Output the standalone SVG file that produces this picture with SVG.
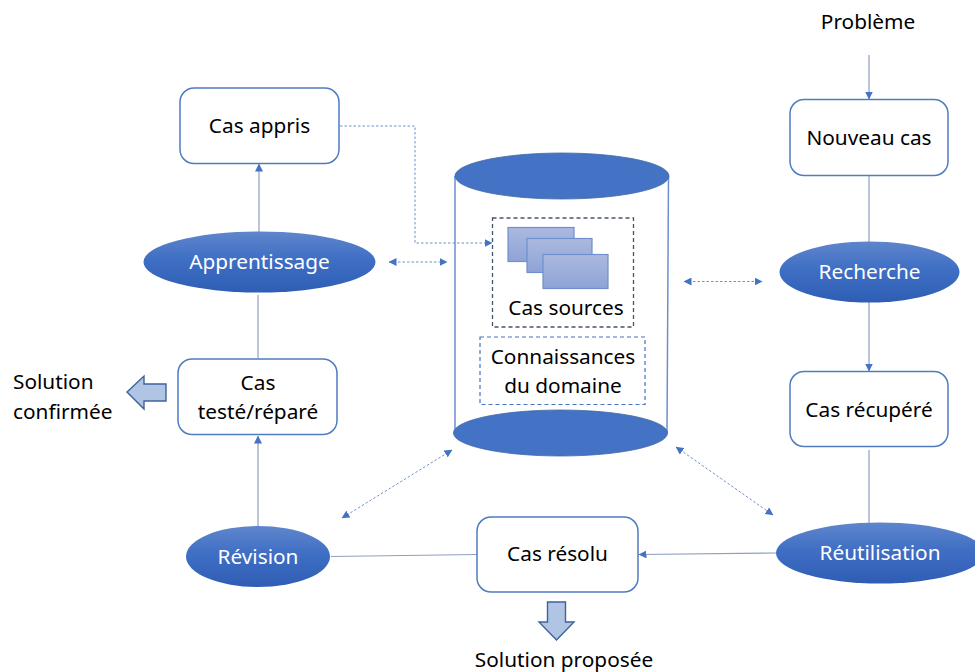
<svg xmlns="http://www.w3.org/2000/svg" width="975" height="672" viewBox="0 0 975 672">
<style>
text{font-family:"Noto Sans","Open Sans",sans-serif;font-size:20.8px;fill:#000;text-anchor:middle}
.w{fill:#fff}
.box{fill:#fff;stroke:#4f7bc0;stroke-width:1.5}
.ell{fill:url(#g)}
.con{fill:none;stroke:#8e9fc0;stroke-width:1.2}
.dash{fill:none;stroke:#6f8fcc;stroke-width:1;stroke-dasharray:2.500 2}
.big{fill:#b0c4e4;stroke:#3f629c;stroke-width:1.4}
.doc{fill:url(#d);stroke:#6f90cf;stroke-width:1.2}
</style>
<defs>
<linearGradient id="g" x1="0" y1="0" x2="0" y2="1"><stop offset="0" stop-color="#5f86cc"/><stop offset=".45" stop-color="#3f6fc4"/><stop offset="1" stop-color="#2f5db5"/></linearGradient>
<linearGradient id="d" x1="0" y1="0" x2="0" y2="1"><stop offset="0" stop-color="#abb9e0"/><stop offset="1" stop-color="#8ea3d6"/></linearGradient>
<marker id="a" viewBox="0 0 8 8" refX="7.500" refY="4" markerWidth="8" markerHeight="8" markerUnits="userSpaceOnUse" orient="auto-start-reverse"><path d="M0 0L8 4L0 8Z" fill="#4472c4"/></marker>
</defs>
<g id="connectors">
<path class="con" d="M869 55V99" marker-end="url(#a)"/>
<path class="con" d="M869 176V243"/>
<path class="con" d="M869 302V371" marker-end="url(#a)"/>
<path class="con" d="M869 450V523"/>
<path class="con" d="M777 553L639 554.500" marker-end="url(#a)"/>
<path class="con" d="M477 554.500L331 556.500"/>
<path class="con" d="M258 526V436" marker-end="url(#a)"/>
<path class="con" d="M258 358V295"/>
<path class="con" d="M259 232V164" marker-end="url(#a)"/>
<path class="dash" d="M340 126H415V243H492" marker-end="url(#a)"/>
<path class="dash" d="M389 262H447" marker-start="url(#a)" marker-end="url(#a)"/>
<path class="dash" d="M684 281.500H762" marker-start="url(#a)" marker-end="url(#a)"/>
<path class="dash" d="M452 450L342 518" marker-start="url(#a)" marker-end="url(#a)"/>
<path class="dash" d="M676 447L773 515" marker-start="url(#a)" marker-end="url(#a)"/>
</g>
<g id="base">
<path d="M455 176V433M668.500 176L667 433" fill="none" stroke="#6d8fcf" stroke-width="1.500"/>
<ellipse cx="562" cy="176" rx="107" ry="23" fill="#4472c4" stroke="#3f689f" stroke-width=".8"/>
<ellipse cx="560.500" cy="433" rx="107" ry="23" fill="#4472c4" stroke="#3f689f" stroke-width=".8"/>
</g>
<g id="cas-sources">
<rect x="492.500" y="218" width="141" height="109" fill="none" stroke="#44546a" stroke-width="1.300" stroke-dasharray="4 3"/>
<rect class="doc" x="508" y="227.500" width="66" height="34"/>
<rect class="doc" x="527" y="238.500" width="65" height="34"/>
<rect class="doc" x="543" y="254.500" width="65" height="34"/>
<text x="566" y="314.500">Cas sources</text>
</g>
<g id="connaissances">
<rect x="480" y="337" width="165" height="67.500" fill="none" stroke="#4472c4" stroke-width="1.200" stroke-dasharray="4 3"/>
<text x="563" y="364">Connaissances</text>
<text x="563" y="392.500">du domaine</text>
</g>
<g id="probleme"><text x="868" y="28.500">Problème</text></g>
<g id="nouveau-cas"><rect class="box" x="790" y="99.500" width="158" height="76" rx="14"/><text x="869" y="145">Nouveau cas</text></g>
<g id="recherche"><ellipse class="ell" cx="869.500" cy="272" rx="90" ry="30.500"/><text class="w" x="869.500" y="279">Recherche</text></g>
<g id="cas-recupere"><rect class="box" x="790" y="371.500" width="158" height="75" rx="14"/><text x="869" y="416.500">Cas récupéré</text></g>
<g id="reutilisation"><ellipse class="ell" cx="880" cy="553" rx="104" ry="30.500"/><text class="w" x="880" y="560">Réutilisation</text></g>
<g id="cas-resolu"><rect class="box" x="477" y="517" width="161" height="75" rx="14"/><text x="557.500" y="561">Cas résolu</text></g>
<g id="solution-proposee">
<path class="big" d="M547.500 602H565.500V622H574L556.500 640L539 622H547.500Z"/>
<text x="564" y="667">Solution proposée</text>
</g>
<g id="revision"><ellipse class="ell" cx="258" cy="556.500" rx="72" ry="30.500"/><text class="w" x="258" y="564">Révision</text></g>
<g id="cas-teste"><rect class="box" x="178" y="359" width="159" height="75.500" rx="14"/><text x="258" y="390">Cas</text><text x="258" y="418.500">testé/réparé</text></g>
<g id="solution-confirmee">
<path class="big" d="M166 384H144V376L127 392L144 409V401H166Z"/>
<text x="13" y="389" style="text-anchor:start">Solution</text>
<text x="13" y="418.500" style="text-anchor:start">confirmée</text>
</g>
<g id="apprentissage"><ellipse class="ell" cx="259.500" cy="262" rx="116" ry="30.500"/><text class="w" x="259.500" y="268.500">Apprentissage</text></g>
<g id="cas-appris"><rect class="box" x="180" y="88" width="159" height="75.500" rx="14"/><text x="259.500" y="133">Cas appris</text></g>
</svg>
